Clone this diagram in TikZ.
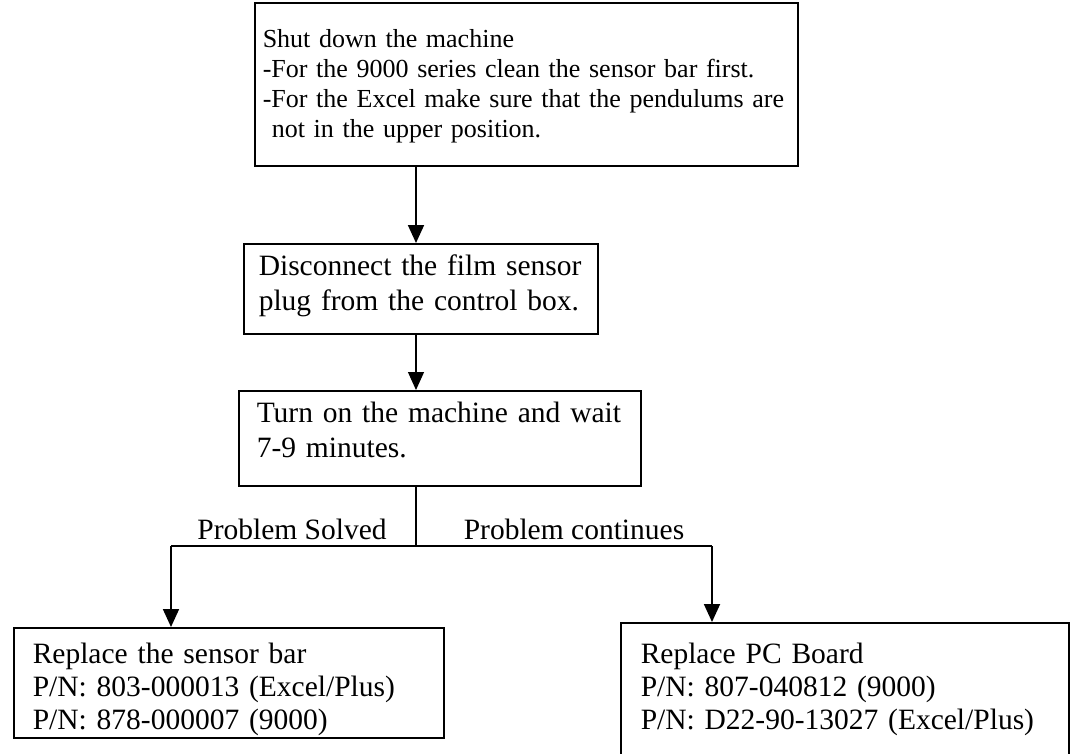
\documentclass[tikz,border=0pt]{standalone}
\usepackage{fontspec}
\setmainfont{Liberation Serif}
\usetikzlibrary{arrows.meta}

\begin{document}
\begin{tikzpicture}[x=1pt,y=-1pt,
    font=\fontsize{29.5}{35}\selectfont,
    arr/.style={draw,line width=1.8pt,-{Triangle[width=16pt,length=18pt]}},
    link/.style={draw,line width=1.8pt}]
  \useasboundingbox (0,0) rectangle (1073,753);
  \begin{scope}[every node/.style={rectangle,draw,line width=1.5pt,anchor=north west,
      align=left,inner ysep=0pt}]
    \node[font=\fontsize{26}{30}\selectfont,minimum width=543pt,inner xsep=8pt,text width=527pt,
          text height=45pt,text depth=118pt] (shutdown) at (254,2)
      {Shut down the machine\\-For the 9000 series clean the sensor bar first.\\-For the Excel make sure that the pendulums are\\\hspace*{0.35em}not in the upper position.};
    \node[minimum width=354pt,inner xsep=15pt,text width=324pt,
          text height=32pt,text depth=58pt] (unplug) at (243,243)
      {Disconnect the film sensor\\plug from the control box.};
    \node[minimum width=402pt,inner xsep=18pt,text width=366pt,
          text height=32pt,text depth=63pt] (wait) at (238,390)
      {Turn on the machine and wait\\7-9 minutes.};
    \node[font=\fontsize{29.5}{33}\selectfont,minimum width=430pt,inner xsep=19pt,text width=392pt,
          text height=36pt,text depth=74pt] (sensorbar) at (13,627)
      {Replace the sensor bar\\P/N: 803-000013 (Excel/Plus)\\P/N: 878-000007 (9000)};
    \node[font=\fontsize{29.5}{33}\selectfont,minimum width=448pt,inner xsep=20pt,text width=408pt,
          text height=41pt,text depth=106pt] (pcboard) at (620,622)
      {Replace PC Board\\P/N: 807-040812 (9000)\\P/N: D22-90-13027 (Excel/Plus)};
  \end{scope}
  % branch points
  \coordinate (fork) at (416,546);
  \coordinate (solved) at (171,546);
  \coordinate (cont) at (712,546);
  \path[arr] (fork |- shutdown.south) -- (fork |- unplug.north);
  \path[arr,line width=1.2pt] (fork |- unplug.south) -- (fork |- wait.north);
  \path[link] (fork |- wait.south) -- (fork);
  \path[link] (solved) -- (cont);
  \path[arr] (solved) -- (solved |- sensorbar.north);
  \path[arr] (cont) -- (cont |- pcboard.north);
  \node[anchor=base] (lsolved) at (292,539) {Problem Solved};
  \node[anchor=base] (lcont) at (574,539) {Problem continues};
\end{tikzpicture}
\end{document}
